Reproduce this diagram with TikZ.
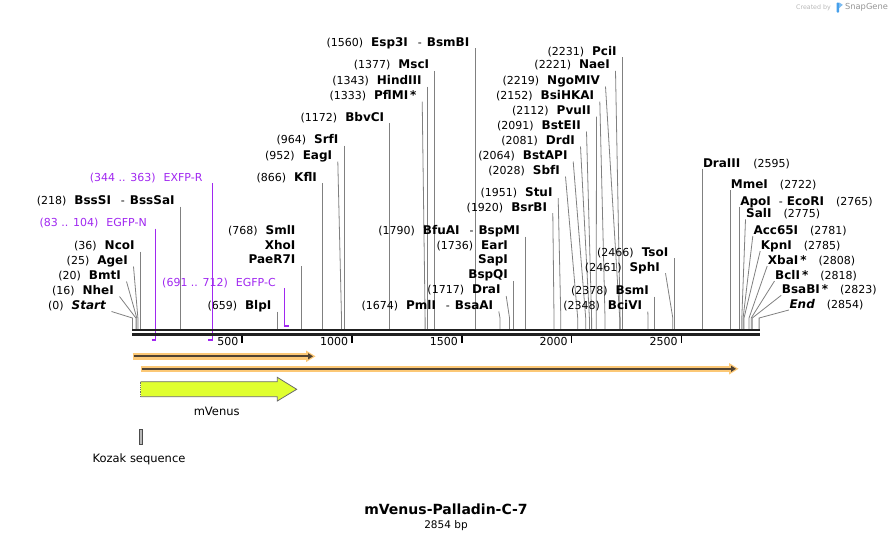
\documentclass[tikz,border=0pt]{standalone}
\usepackage{fontspec}
\setmainfont{DejaVu Sans}
\usetikzlibrary{arrows.meta}

\definecolor{primerc}{RGB}{160,40,240}
\definecolor{sitegray}{RGB}{128,128,128}
\definecolor{glowc}{RGB}{252,200,118}
\definecolor{featdark}{RGB}{80,66,50}
\definecolor{venus}{RGB}{224,255,48}
\definecolor{snapblue}{RGB}{70,160,235}

\newcommand{\enz}[1]{{\fontsize{12}{14}\selectfont\bfseries #1}}
\newcommand{\bpn}[1]{(#1)\hspace{8pt}}
\newcommand{\sep}{\hspace{10pt}-\hspace{5pt}}

\begin{document}
\begin{tikzpicture}[x=1pt, y=-1pt,
  lbl/.style={inner sep=0pt, font=\fontsize{11}{13}\selectfont, text height=10pt, text depth=1.2pt},
  plbl/.style={lbl, text=primerc},
  site/.style={draw=sitegray, line width=0.8pt},
  primer/.style={draw=primerc, line width=1.3pt},
  pfoot/.style={draw=primerc, line width=2pt},
  seqline/.style={draw=black!87},
  tick/.style={draw=black, line width=1.6pt},
  glow/.style={draw=glowc, line width=6.5pt},
  featline/.style={draw=featdark, line width=1.8pt, -{Triangle[length=5pt,width=6pt]}}]
  \useasboundingbox (0,0) rectangle (893,539);

  % Watermark
  \node[inner sep=0pt, font=\fontsize{6.3}{8}\selectfont, text=black!28] (made) at (813.5,7.5) {Created by};
  \fill[snapblue, rounded corners=0.8pt] (836.5,2.5) rectangle (839.2,12.5);
  \fill[snapblue!70] (839.2,2.5) -- (842.8,4.8) -- (839.2,8) -- cycle;
  \node[inner sep=0pt, font=\fontsize{8.3}{10}\selectfont, text=black!42] (snapgene) at (866.5,7.5) {SnapGene};

  % Cut sites left of their lines
  \node[lbl, anchor=east] (start) at (106,305) {\bpn{0}\enz{\itshape Start}};
  \draw[site] ([shift={(5.5,6.5)}]start.east) -- (132.4,318) -- (132.4,330);
  \node[lbl, anchor=east] (nhei) at (114,290) {\bpn{16}\enz{NheI}};
  \draw[site] ([shift={(5.5,6.5)}]nhei.east) -- (135.9,318) -- (135.9,330);
  \node[lbl, anchor=east] (bmti) at (121,275) {\bpn{20}\enz{BmtI}};
  \draw[site] ([shift={(5.5,6.5)}]bmti.east) -- (136.8,318) -- (136.8,330);
  \node[lbl, anchor=east] (agei) at (128,260) {\bpn{25}\enz{AgeI}};
  \draw[site] ([shift={(5.5,6.5)}]agei.east) -- (137.9,318) -- (137.9,330);
  \node[lbl, anchor=east] (ncoi) at (134.8,245) {\bpn{36}\enz{NcoI}};
  \draw[site] ([shift={(5.5,6.5)}]ncoi.east) -- (140.3,330);
  \node[lbl, anchor=east] (bsssi) at (174.8,200) {\bpn{218}\enz{BssSI}\sep\enz{BssSaI}};
  \draw[site] ([shift={(5.5,6.5)}]bsssi.east) -- (180.3,330);
  \node[lbl, anchor=east] (blpi) at (271.6,305) {\bpn{659}\enz{BlpI}};
  \draw[site] ([shift={(5.5,6.5)}]blpi.east) -- (277.1,330);
  \node[lbl, anchor=east] (smli) at (295.6,230) {\bpn{768}\enz{SmlI}};
  \node[lbl, anchor=east] (xhoi) at (295.6,245) {\enz{XhoI}};
  \node[lbl, anchor=east] (paer) at (295.6,259.5) {\enz{PaeR7I}};
  \draw[site] ([shift={(5.5,6.5)}]paer.east) -- (301.1,330);
  \node[lbl, anchor=east] (kfli) at (317.1,176.7) {\bpn{866}\enz{KflI}};
  \draw[site] ([shift={(5.5,6.5)}]kfli.east) -- (322.6,330);
  \node[lbl, anchor=east] (eagi) at (332.3,155) {\bpn{952}\enz{EagI}};
  \draw[site] ([shift={(5.5,6.5)}]eagi.east) -- (341.5,318) -- (341.5,330);
  \node[lbl, anchor=east] (srfi) at (338.6,139) {\bpn{964}\enz{SrfI}};
  \draw[site] ([shift={(5.5,6.5)}]srfi.east) -- (344.1,330);
  \node[lbl, anchor=east] (bbvci) at (384.3,116.7) {\bpn{1172}\enz{BbvCI}};
  \draw[site] ([shift={(5.5,6.5)}]bbvci.east) -- (389.8,330);
  \node[lbl, anchor=east] (pflmi) at (416.7,95) {\bpn{1333}\enz{PflMI\,*}};
  \draw[site] ([shift={(5.5,6.5)}]pflmi.east) -- (425.1,318) -- (425.1,330);
  \node[lbl, anchor=east] (hindiii) at (421.8,80) {\bpn{1343}\enz{HindIII}};
  \draw[site] ([shift={(5.5,6.5)}]hindiii.east) -- (427.3,330);
  \node[lbl, anchor=east] (msci) at (429.3,64.3) {\bpn{1377}\enz{MscI}};
  \draw[site] ([shift={(5.5,6.5)}]msci.east) -- (434.8,330);
  \node[lbl, anchor=east] (esp) at (469.5,41.7) {\bpn{1560}\enz{Esp3I}\sep\enz{BsmBI}};
  \draw[site] ([shift={(5.5,6.5)}]esp.east) -- (475.0,330);
  \node[lbl, anchor=east] (pmli) at (493.3,305) {\bpn{1674}\enz{PmlI}\sep\enz{BsaAI}};
  \draw[site] ([shift={(5.5,6.5)}]pmli.east) -- (500.0,318) -- (500.0,330);
  \node[lbl, anchor=east] (drai) at (500.7,289.5) {\bpn{1717}\enz{DraI}};
  \draw[site] ([shift={(5.5,6.5)}]drai.east) -- (509.5,318) -- (509.5,330);
  \node[lbl, anchor=east] (eari) at (508.1,245) {\bpn{1736}\enz{EarI}};
  \node[lbl, anchor=east] (sapi) at (508.1,259.5) {\enz{SapI}};
  \node[lbl, anchor=east] (bspqi) at (508.1,274.3) {\enz{BspQI}};
  \draw[site] ([shift={(5.5,6.5)}]bspqi.east) -- (513.6,330);
  \node[lbl, anchor=east] (bfuai) at (520.0,230) {\bpn{1790}\enz{BfuAI}\sep\enz{BspMI}};
  \draw[site] ([shift={(5.5,6.5)}]bfuai.east) -- (525.5,330);
  \node[lbl, anchor=east] (bsrbi) at (547.3,206.7) {\bpn{1920}\enz{BsrBI}};
  \draw[site] ([shift={(5.5,6.5)}]bsrbi.east) -- (554.0,318) -- (554.0,330);
  \node[lbl, anchor=east] (stui) at (552.7,191.7) {\bpn{1951}\enz{StuI}};
  \draw[site] ([shift={(5.5,6.5)}]stui.east) -- (560.8,318) -- (560.8,330);
  \node[lbl, anchor=east] (sbfi) at (560,170) {\bpn{2028}\enz{SbfI}};
  \draw[site] ([shift={(5.5,6.5)}]sbfi.east) -- (577.7,318) -- (577.7,330);
  \node[lbl, anchor=east] (bstapi) at (567.7,155) {\bpn{2064}\enz{BstAPI}};
  \draw[site] ([shift={(5.5,6.5)}]bstapi.east) -- (585.7,318) -- (585.7,330);
  \node[lbl, anchor=east] (drdi) at (575,140) {\bpn{2081}\enz{DrdI}};
  \draw[site] ([shift={(5.5,6.5)}]drdi.east) -- (589.4,318) -- (589.4,330);
  \node[lbl, anchor=east] (bsteii) at (581,125) {\bpn{2091}\enz{BstEII}};
  \draw[site] ([shift={(5.5,6.5)}]bsteii.east) -- (591.6,318) -- (591.6,330);
  \node[lbl, anchor=east] (pvuii) at (591,110) {\bpn{2112}\enz{PvuII}};
  \draw[site] ([shift={(5.5,6.5)}]pvuii.east) -- (596.2,318) -- (596.2,330);
  \node[lbl, anchor=east] (bsihkai) at (594.3,95) {\bpn{2152}\enz{BsiHKAI}};
  \draw[site] ([shift={(5.5,6.5)}]bsihkai.east) -- (605.0,318) -- (605.0,330);
  \node[lbl, anchor=east] (ngomiv) at (600,80) {\bpn{2219}\enz{NgoMIV}};
  \draw[site] ([shift={(5.5,6.5)}]ngomiv.east) -- (619.7,318) -- (619.7,330);
  \node[lbl, anchor=east] (naei) at (610,64.3) {\bpn{2221}\enz{NaeI}};
  \draw[site] ([shift={(5.5,6.5)}]naei.east) -- (620.1,318) -- (620.1,330);
  \node[lbl, anchor=east] (pcii) at (616.8,50.7) {\bpn{2231}\enz{PciI}};
  \draw[site] ([shift={(5.5,6.5)}]pcii.east) -- (622.3,330);
  \node[lbl, anchor=east] (bcivi) at (642.3,305) {\bpn{2348}\enz{BciVI}};
  \draw[site] ([shift={(5.5,6.5)}]bcivi.east) -- (648.0,318) -- (648.0,330);
  \node[lbl, anchor=east] (bsmi) at (649.1,290) {\bpn{2378}\enz{BsmI}};
  \draw[site] ([shift={(5.5,6.5)}]bsmi.east) -- (654.6,330);
  \node[lbl, anchor=east] (sphi) at (660,266.7) {\bpn{2461}\enz{SphI}};
  \draw[site] ([shift={(5.5,6.5)}]sphi.east) -- (672.8,318) -- (672.8,330);
  \node[lbl, anchor=east] (tsoi) at (668.4,251.7) {\bpn{2466}\enz{TsoI}};
  \draw[site] ([shift={(5.5,6.5)}]tsoi.east) -- (673.9,330);

  % Cut sites right of their lines
  \node[lbl, anchor=west] (draiii) at (702.8,162.7) {\enz{DraIII}\hspace{13pt}(2595)};
  \draw[site] ([shift={(-0.5,6)}]draiii.west) -- (702.3,330);
  \node[lbl, anchor=west] (mmei) at (730.7,184.3) {\enz{MmeI}\hspace{12pt}(2722)};
  \draw[site] ([shift={(-0.5,6)}]mmei.west) -- (730.2,330);
  \node[lbl, anchor=west] (apoi) at (740.1,200.7) {\enz{ApoI}\hspace{8pt}-\hspace{4pt}\enz{EcoRI}\hspace{12pt}(2765)};
  \draw[site] ([shift={(-0.5,6)}]apoi.west) -- (739.6,330);
  \node[lbl, anchor=west] (sali) at (746,213.3) {\enz{SalI}\hspace{12pt}(2775)};
  \draw[site] ([shift={(-0.5,6)}]sali.west) -- (741.8,318) -- (741.8,330);
  \node[lbl, anchor=west] (acc) at (753.3,230) {\enz{Acc65I}\hspace{12pt}(2781)};
  \draw[site] ([shift={(-0.5,6)}]acc.west) -- (743.1,318) -- (743.1,330);
  \node[lbl, anchor=west] (kpni) at (760.7,245) {\enz{KpnI}\hspace{12pt}(2785)};
  \draw[site] ([shift={(-0.5,6)}]kpni.west) -- (744.0,318) -- (744.0,330);
  \node[lbl, anchor=west] (xbai) at (767.7,260) {\enz{XbaI\,*}\hspace{12pt}(2808)};
  \draw[site] ([shift={(-0.5,6)}]xbai.west) -- (749.0,318) -- (749.0,330);
  \node[lbl, anchor=west] (bcli) at (775,275) {\enz{BclI\,*}\hspace{12pt}(2818)};
  \draw[site] ([shift={(-0.5,6)}]bcli.west) -- (751.2,318) -- (751.2,330);
  \node[lbl, anchor=west] (bsabi) at (781.7,289.3) {\enz{BsaBI\,*}\hspace{12pt}(2823)};
  \draw[site] ([shift={(-0.5,6)}]bsabi.west) -- (752.3,318) -- (752.3,330);
  \node[lbl, anchor=west] (finish) at (789.3,304) {\enz{\itshape End}\hspace{12pt}(2854)};
  \draw[site] ([shift={(-0.5,6)}]finish.west) -- (759.1,318) -- (759.1,330);

  % Primers
  \node[plbl, anchor=east] (exfpr) at (202.7,177) {(344 .. 363)\hspace{8pt}EXFP-R};
  \draw[primer] ([shift={(9.6,6)}]exfpr.east) -- (212.3,339.5);
  \draw[pfoot] (208.3,339.5) -- (212.9,339.5);
  \node[plbl, anchor=east] (egfpn) at (147,222.5) {(83 .. 104)\hspace{8pt}EGFP-N};
  \draw[primer] ([shift={(8.3,6)}]egfpn.east) -- (155.3,339.5);
  \draw[pfoot] (151.5,339.5) -- (155.9,339.5);
  \node[plbl, anchor=east] (egfpc) at (276,282) {(691 .. 712)\hspace{8pt}EGFP-C};
  \draw[primer] ([shift={(8.3,6)}]egfpc.east) -- (284.3,325.7);
  \draw[pfoot] (283.7,325.7) -- (288.5,325.7);

  % Sequence line
  \draw[seqline, line width=2.5pt] (132,330.2) -- (760,330.2);
  \draw[seqline, line width=3pt] (132,334) -- (760,334);

  % Ruler
  \draw[tick] (242.2,335.5) -- (242.2,342.5);
  \node[lbl, anchor=east] (r500) at (238.5,341.5) {500};
  \draw[tick] (352.0,335.5) -- (352.0,342.5);
  \node[lbl, anchor=east] (r1000) at (348.3,341.5) {1000};
  \draw[tick] (461.8,335.5) -- (461.8,342.5);
  \node[lbl, anchor=east] (r1500) at (458.1,341.5) {1500};
  \draw[tick] (571.6,335.5) -- (571.6,342.5);
  \node[lbl, anchor=east] (r2000) at (567.9,341.5) {2000};
  \draw[tick] (681.4,335.5) -- (681.4,342.5);
  \node[lbl, anchor=east] (r2500) at (677.7,341.5) {2500};

  % Features
  \draw[glow] (132.5,356.3) -- (308,356.3);
  \fill[glowc] (306,350.5) -- (315.5,356.3) -- (306,362.1) -- cycle;
  \draw[featline] (133.5,356.3) -- (313,356.3);
  \draw[glow] (140.5,368.8) -- (731,368.8);
  \fill[glowc] (729,363) -- (738.5,368.8) -- (729,374.6) -- cycle;
  \draw[featline] (141.5,368.8) -- (736,368.8);

  % mVenus
  \fill[venus] (140.7,381.7) -- (277.3,381.7) -- (277.3,377.3) -- (296.7,389.3) -- (277.3,401) -- (277.3,396.7) -- (140.7,396.7) -- cycle;
  \draw[gray!85!black, line width=0.8pt] (140.7,381.7) -- (277.3,381.7) -- (277.3,377.3) -- (296.7,389.3) -- (277.3,401) -- (277.3,396.7) -- (140.7,396.7);
  \draw[gray!85!black, line width=0.8pt, densely dotted] (140.7,396.7) -- (140.7,381.7);
  \node[lbl, font=\fontsize{11.5}{13}\selectfont] (venuslbl) at (216.7,411) {mVenus};

  % Kozak sequence
  \draw[fill=gray!55, draw=gray!60!black, line width=0.6pt] (139.3,429) rectangle (142,444.3);
  \node[lbl, font=\fontsize{11.5}{13}\selectfont] (kozak) at (139,458.3) {Kozak sequence};

  % Title
  \node[lbl, font=\fontsize{14}{16}\selectfont\bfseries] (title) at (446,509.7) {mVenus-Palladin-C-7};
  \node[lbl, font=\fontsize{10.5}{12}\selectfont] (size) at (446,524) {2854 bp};
\end{tikzpicture}
\end{document}
